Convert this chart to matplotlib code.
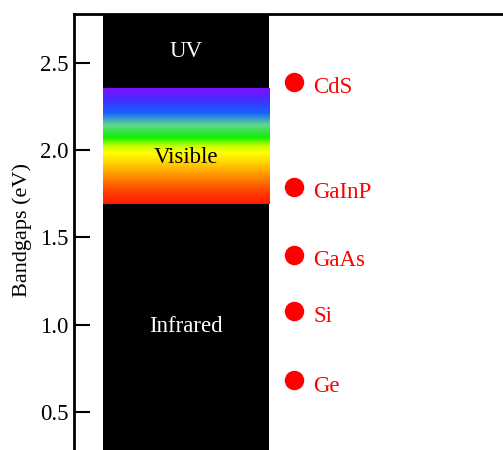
import numpy as np
import matplotlib
matplotlib.use("Agg")
import matplotlib.pyplot as plt
from matplotlib.colors import LinearSegmentedColormap

# ---- data ----
materials = ["CdS", "GaInP", "GaAs", "Si", "Ge"]
bandgaps = [2.39, 1.79, 1.40, 1.08, 0.68]

band_names = ["Infrared", "Visible", "UV"]
band_low = [0.0, 1.69, 2.35]
band_high = [1.69, 2.35, 3.0]

# visible gradient stops (energy in eV -> colour)
grad_energy = [1.69, 1.76, 1.85, 1.93, 1.98, 2.02, 2.07, 2.14, 2.21, 2.28, 2.35]
grad_colors = ["#ff1a00", "#ff4000", "#ff9000", "#ffd800", "#ffff00", "#c8ff00",
               "#10f000", "#60d890", "#1860ff", "#4030ff", "#8010ff"]

yticks = [0.5, 1.0, 1.5, 2.0, 2.5]

# ---- figure ----
plt.rcParams['font.family'] = ['Liberation Serif', 'DejaVu Serif']
W, H = 503, 450
fig = plt.figure(figsize=(W / 100, H / 100), dpi=100)

ytop = 2.783
px_per_ev = 174.5
top_px = 13.5
ax_h_px = ytop * px_per_ev
left_px = 74
ax_w_px = 486
ax = fig.add_axes([left_px / W, 1 - (top_px + ax_h_px) / H, ax_w_px / W, ax_h_px / H])
ax.set_ylim(0, ytop)
ax.set_xlim(0, 1)

FS = 16.5
bx0, bx1 = 0.059, 0.401
# black bands
for name, lo, hi in zip(band_names, band_low, band_high):
    if name != "Visible":
        ax.bar((bx0 + bx1) / 2, hi - lo, bottom=lo, width=bx1 - bx0, color="black", zorder=1)

# visible gradient
lo, hi = band_low[1], band_high[1]
cmap = LinearSegmentedColormap.from_list(
    "vis", [((e - lo) / (hi - lo), c) for e, c in zip(grad_energy, grad_colors)])
grad = np.linspace(0, 1, 256).reshape(-1, 1)
ax.imshow(grad, cmap=cmap, origin="lower", aspect="auto",
          extent=[bx0, bx1, lo, hi], zorder=2, interpolation="bilinear")

xc = (bx0 + bx1) / 2
ax.text(xc, 2.565, "UV", color="white", ha="center", va="center", fontsize=FS)
ax.text(xc, 1.955, "Visible", color="black", ha="center", va="center", fontsize=FS)
ax.text(xc, 0.99, "Infrared", color="white", ha="center", va="center", fontsize=FS)

# materials
mx = 0.453
ax.plot([mx] * len(bandgaps), bandgaps, "o", color="#ff0000", markersize=14,
        markeredgewidth=0, zorder=3, clip_on=False)
for m, v in zip(materials, bandgaps):
    ax.annotate(m, (0.492, v), xytext=(0, -8), textcoords="offset points",
                color="#ff0000", ha="left", va="baseline", fontsize=FS)

ax.set_yticks(yticks)
ax.set_yticklabels([f"{t:.1f}" for t in yticks], fontsize=FS)
ax.set_xticks([])
ax.tick_params(axis="y", direction="in", length=11.5, width=1.5, pad=4)
for s in ax.spines.values():
    s.set_linewidth(2.0)

fig.text(22 / W, 1 - 230 / H, "Bandgaps (eV)", rotation=90, ha="center", va="center",
         fontsize=16)

fig.savefig("out.png", dpi=100)
